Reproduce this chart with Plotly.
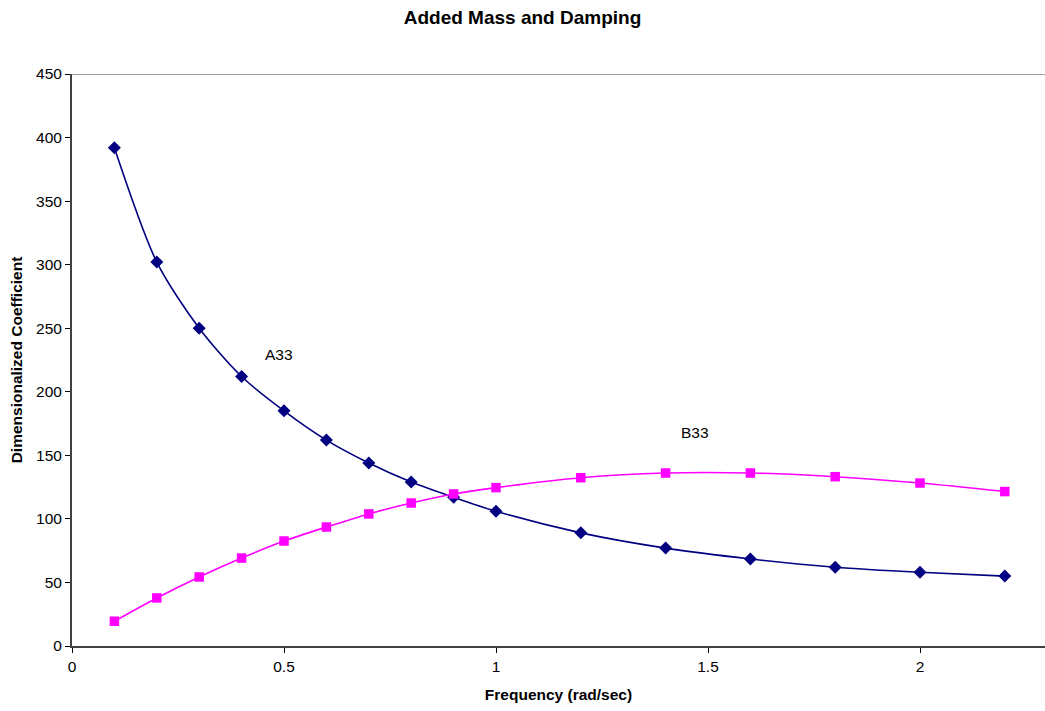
import plotly.graph_objects as go

freq = [0.1, 0.2, 0.3, 0.4, 0.5, 0.6, 0.7, 0.8, 0.9, 1.0, 1.2, 1.4, 1.6, 1.8, 2.0, 2.2]
a33 = [392, 302, 250, 212, 185, 162, 144, 129, 117, 106, 89, 77, 68.5, 62, 58, 55]
b33 = [19.5, 37.8, 54.3, 69.2, 82.6, 93.6, 103.9, 112.5, 119.6, 124.6, 132.4, 136.1, 136.1, 133.2, 128.2, 121.5]

x_ticks = [0, 0.5, 1, 1.5, 2]
x_tick_labels = ["0", "0.5", "1", "1.5", "2"]
y_ticks = [0, 50, 100, 150, 200, 250, 300, 350, 400, 450]

font = "Liberation Sans, Arial, sans-serif"

fig = go.Figure()
fig.add_trace(go.Scatter(
    x=freq, y=a33, mode="lines+markers", name="A33",
    line=dict(color="#000080", width=1.6, shape="spline", smoothing=0.8),
    marker=dict(symbol="diamond", size=10, color="#000080"),
))
fig.add_trace(go.Scatter(
    x=freq, y=b33, mode="lines+markers", name="B33",
    line=dict(color="#FF00FF", width=1.6, shape="spline", smoothing=0.8),
    marker=dict(symbol="square", size=9.5, color="#FF00FF"),
))

fig.add_annotation(x=0.488, y=229, text="A33", showarrow=False,
                   font=dict(family=font, size=15.5, color="#000000"))
fig.add_annotation(x=1.469, y=168, text="B33", showarrow=False,
                   font=dict(family=font, size=15.5, color="#000000"))

# top border of plot area
fig.add_shape(type="line", xref="paper", yref="y", x0=0, x1=1, y0=450, y1=450,
              line=dict(color="#808080", width=1.5))

fig.update_layout(
    width=1045, height=711,
    margin=dict(l=72, r=0, t=74, b=65),
    paper_bgcolor="white", plot_bgcolor="white",
    showlegend=False,
    title=dict(text="<b>Added Mass and Damping</b>", x=0.5, xanchor="center",
               y=0.975, yanchor="middle",
               font=dict(family=font, size=19, color="#000000")),
    font=dict(family=font, size=15, color="#000000"),
)
fig.update_xaxes(
    range=[0, 2.2948], tickvals=x_ticks, ticktext=x_tick_labels,
    showgrid=False, zeroline=False, showline=True, linecolor="#404040", linewidth=2,
    ticks="outside", ticklen=5, tickcolor="#000000",
    tickfont=dict(family=font, size=15.5),
    title=dict(text="<b>Frequency (rad/sec)</b>", font=dict(family=font, size=15.5), standoff=16),
)
fig.update_yaxes(
    range=[0, 450], tickvals=y_ticks,
    showgrid=False, zeroline=False, showline=True, linecolor="#404040", linewidth=2,
    ticks="outside", ticklen=5, tickcolor="#000000",
    tickfont=dict(family=font, size=15.5),
    title=dict(text="<b>Dimensionalized Coefficient</b>", font=dict(family=font, size=15.5), standoff=10),
)

fig.write_html("out.html")
